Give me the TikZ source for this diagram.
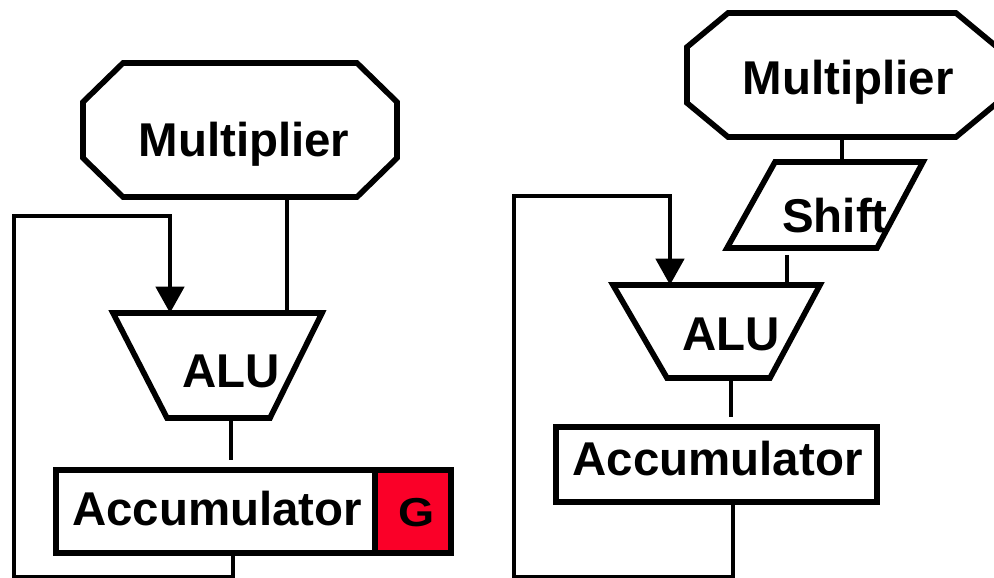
\documentclass[tikz,border=0pt]{standalone}
\usepackage{fontspec}
\setmainfont{Liberation Sans}
\usetikzlibrary{calc}
\usetikzlibrary{arrows.meta}
\definecolor{gred}{RGB}{250,0,40}

\begin{document}
\begin{tikzpicture}[x=0.02cm, y=-0.02cm,
    blk/.style={draw, line width=3.2pt, inner sep=0pt, outer sep=0pt},
    hull/.style={inner sep=0pt, outer sep=0pt},
    edge/.style={line width=3.2pt},
    wire/.style={line width=2.5pt},
    feed/.style={wire, -{Triangle[length=15pt, width=16pt]}},
    lbl/.style={anchor=base, inner sep=0pt, font=\fontsize{27}{31}\selectfont\bfseries}]
    \useasboundingbox (0,0) rectangle (994,578);

    % left: plain accumulator with guard bits
    \node[hull, minimum width=6.28cm, minimum height=2.68cm] (mulA) at (240,130) {};
    \draw[edge] ($(mulA.north west)+(0.8cm,0)$) -- ($(mulA.north east)+(-0.8cm,0)$)
        -- ($(mulA.north east)+(0,-0.78cm)$) -- ($(mulA.south east)+(0,0.78cm)$)
        -- ($(mulA.south east)+(-0.8cm,0)$) -- ($(mulA.south west)+(0.8cm,0)$)
        -- ($(mulA.south west)+(0,0.78cm)$) -- ($(mulA.north west)+(0,-0.78cm)$) -- cycle;
    \node[hull, minimum width=4.18cm, minimum height=2.1cm] (aluA) at (217.5,365.5) {};
    \draw[edge] (aluA.north west) -- (aluA.north east) -- ($(aluA.south east)+(-1.04cm,0)$)
        -- ($(aluA.south west)+(1.08cm,0)$) -- cycle;
    \node[blk, minimum width=6.38cm, minimum height=1.66cm] (accA) at (215.5,511.5) {};
    \node[blk, fill=gred, minimum width=1.52cm, minimum height=1.66cm, anchor=west] (gA) at (accA.east) {};

    \node[lbl] (mulAtxt) at (244,156) {Multiplier};
    \node[lbl] (aluAtxt) at (231,387) {ALU};
    \node[lbl] (accAtxt) at (217,525) {Accumulator};
    \node[lbl, font=\fontsize{23}{27}\selectfont\bfseries] (gAtxt) at (416.5,526) {\scalebox{1.15}[1]{G}};

    \coordinate (inA) at (287,0);
    \coordinate (midA) at (231,0);
    \coordinate (outA) at (233,577);
    \coordinate (cornA) at (14,577);
    \coordinate (topA) at (170,216);
    \draw[wire] (inA |- mulA.south) -- (inA |- aluA.north);
    \draw[wire, shorten >=0.2cm] (midA |- aluA.south) -- (midA |- accA.north);
    \draw[feed] (outA |- accA.south) -- (outA) -- (cornA) |- (topA) -- (topA |- aluA.north);

    % right: shifted multiplier
    \node[hull, minimum width=6.2cm, minimum height=2.48cm] (mulB) at (842,75) {};
    \draw[edge] ($(mulB.north west)+(0.82cm,0)$) -- ($(mulB.north east)+(-0.82cm,0)$)
        -- ($(mulB.north east)+(0,-0.68cm)$) -- ($(mulB.south east)+(0,0.68cm)$)
        -- ($(mulB.south east)+(-0.82cm,0)$) -- ($(mulB.south west)+(0.82cm,0)$)
        -- ($(mulB.south west)+(0,0.68cm)$) -- ($(mulB.north west)+(0,-0.68cm)$) -- cycle;
    \node[hull, minimum width=3.92cm, minimum height=1.72cm] (shiftB) at (825,205) {};
    \draw[edge] ($(shiftB.north west)+(0.96cm,0)$) -- (shiftB.north east)
        -- ($(shiftB.south east)+(-0.92cm,0)$) -- (shiftB.south west) -- cycle;
    \node[hull, minimum width=4.14cm, minimum height=1.86cm] (aluB) at (716.5,331.5) {};
    \draw[edge] (aluB.north west) -- (aluB.north east) -- ($(aluB.south east)+(-1.0cm,0)$)
        -- ($(aluB.south west)+(1.08cm,0)$) -- cycle;
    \node[blk, minimum width=6.42cm, minimum height=1.5cm] (accB) at (716.5,464.5) {};

    \node[lbl] (mulBtxt) at (848,94) {Multiplier};
    \node[lbl] (shiftBtxt) at (835,232) {Shift};
    \node[lbl] (aluBtxt) at (731,350) {ALU};
    \node[lbl] (accBtxt) at (717.5,475) {Accumulator};

    \coordinate (inB) at (787,0);
    \coordinate (midB) at (731,0);
    \coordinate (outB) at (733,577);
    \coordinate (cornB) at (514,577);
    \coordinate (topB) at (670,196);
    \draw[wire] (mulB.south) -- (mulB.south |- shiftB.north);
    \draw[wire, shorten <=0.14cm] (inB |- shiftB.south) -- (inB |- aluB.north);
    \draw[wire, shorten >=0.2cm] (midB |- aluB.south) -- (midB |- accB.north);
    \draw[feed] (outB |- accB.south) -- (outB) -- (cornB) |- (topB) -- (topB |- aluB.north);
\end{tikzpicture}
\end{document}
